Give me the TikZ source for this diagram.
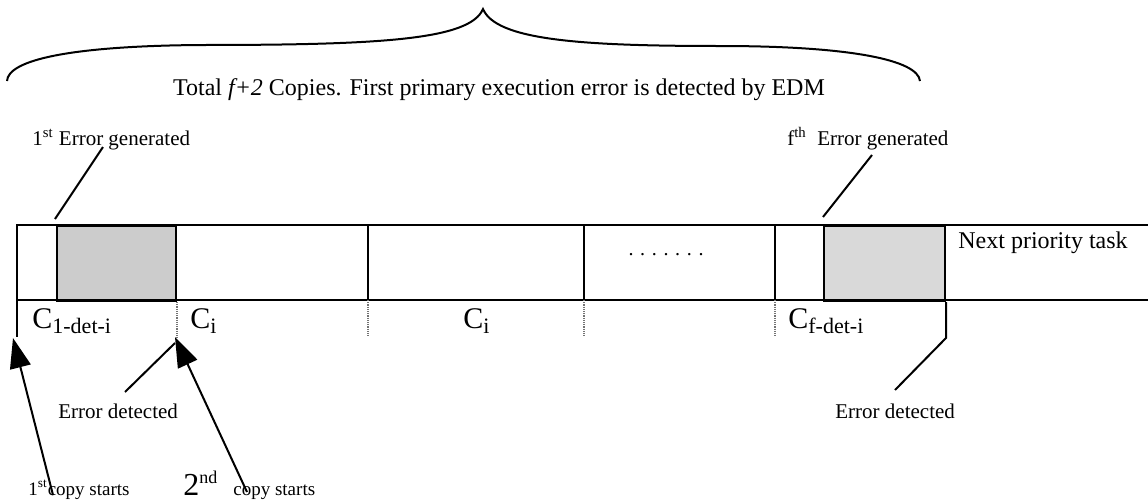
\documentclass[tikz,border=0pt]{standalone}
\usepackage{fontspec}
\setmainfont{Liberation Serif}
\usetikzlibrary{arrows.meta}
\begin{document}
\begin{tikzpicture}[x=0.5pt,y=-0.5pt,
  rule/.style={line width=1pt},
  lead/.style={line width=1pt},
  tick/.style={line width=1.2pt, black!55, dash pattern=on 0.6pt off 0.5pt},
  errbox/.style={draw=black, line width=1pt, anchor=north west, inner sep=0pt, minimum height=37.5pt},
  bigc/.style={font=\fontsize{15}{18}\selectfont, anchor=base west, inner sep=0pt},
  lbl/.style={font=\fontsize{10.5}{12}\selectfont, anchor=base west, inner sep=0pt},
  small/.style={font=\fontsize{9.5}{11}\selectfont, anchor=base west, inner sep=0pt},
  head/.style={font=\fontsize{12}{14}\selectfont, inner sep=0pt},
  pointer/.style={line width=1pt, -{Triangle[length=15pt,width=10.5pt]}}
]
\useasboundingbox (0,0) rectangle (1148,504);

% brace spanning all copies
\draw[line width=1pt] (7,81) .. controls (8,60) and (70,46) .. (200,45)
  .. controls (380,45) and (470,40) .. (483,9)
  .. controls (496,40) and (580,46) .. (720,46)
  .. controls (850,46) and (918,60) .. (920,81);
\node[head, anchor=base] (total) at (499,95)
  {Total \textit{f+2} Copies. First primary execution error is detected by EDM};

% erroneous parts of the first and the f-th copy
\node[errbox, fill=black!20, minimum width=59.5pt] (g1) at (56,225) {};
\node[errbox, fill=black!15, minimum width=60.5pt] (g2) at (823,225) {};

% timeline strip
\draw[rule] (1148,225) -- (17,225) -- (17,337);
\draw[rule] (17,300) -- (1148,300);
\draw[rule] (368,225) -- (368,300);
\draw[rule] (584,225) -- (584,300);
\draw[rule] (775,225) -- (775,300);

% copy boundaries below the strip
\draw[tick] (g1.south east) -- ++(0,36);
\draw[tick] (368,300) -- ++(0,36);
\draw[tick] (584,300) -- ++(0,36);
\draw[tick] (775,300) -- ++(0,36);

% labels inside and under the strip
\node[font=\fontsize{10}{12}\selectfont, inner sep=0pt, anchor=base] (dots) at (666,255) {. . . . . . .};
\node[head, anchor=base west] (next) at (958,248) {Next priority task};
\node[bigc] (c1) at (32,328) {C{\fontsize{11}{12}\selectfont\raisebox{-2.5pt}{1-det-i}}};
\node[bigc] (c2) at (190,328) {C{\fontsize{11}{12}\selectfont\raisebox{-2.5pt}{i}}};
\node[bigc] (c3) at (463,328) {C{\fontsize{11}{12}\selectfont\raisebox{-2.5pt}{i}}};
\node[bigc] (cf) at (788,328) {C{\fontsize{11}{12}\selectfont\raisebox{-2.5pt}{f-det-i}}};

% error generation
\node[lbl] (e1) at (32,145) {1\textsuperscript{st} Error generated};
\node[lbl] (ef) at (787,145) {f\textsuperscript{th}\ \ Error generated};
\coordinate (e1s) at (103,147);
\coordinate (e1t) at (55,219);
\coordinate (efs) at (872,155);
\coordinate (eft) at (823,217);
\draw[lead] (e1s) -- (e1t);
\draw[lead] (efs) -- (eft);

% error detection
\node[lbl] (d1) at (58,418) {Error detected};
\node[lbl] (d2) at (835,418) {Error detected};
\coordinate (d1s) at (125,392);
\coordinate (d1t) at (175,343);
\coordinate (d2s) at (895,390);
\draw[lead] (d1s) -- (d1t);
\draw[lead] (g2.south east) -- ++(0,36) -- (d2s);

% copy starts
\node[small] (s1) at (28,495) {1\textsuperscript{st}copy starts};
\node[small] (s2) at (183,495)
  {{\fontsize{16}{18}\selectfont 2}\raisebox{6pt}{\fontsize{9}{10}\selectfont nd}\hspace{8pt}copy starts};
\coordinate (s1t) at (53,495);
\coordinate (s2t) at (247,492);
\coordinate (start1) at (13,338);
\coordinate (start2) at (175,337);
\draw[pointer] (s1t) -- (start1);
\draw[pointer] (s2t) -- (start2);
\end{tikzpicture}
\end{document}
